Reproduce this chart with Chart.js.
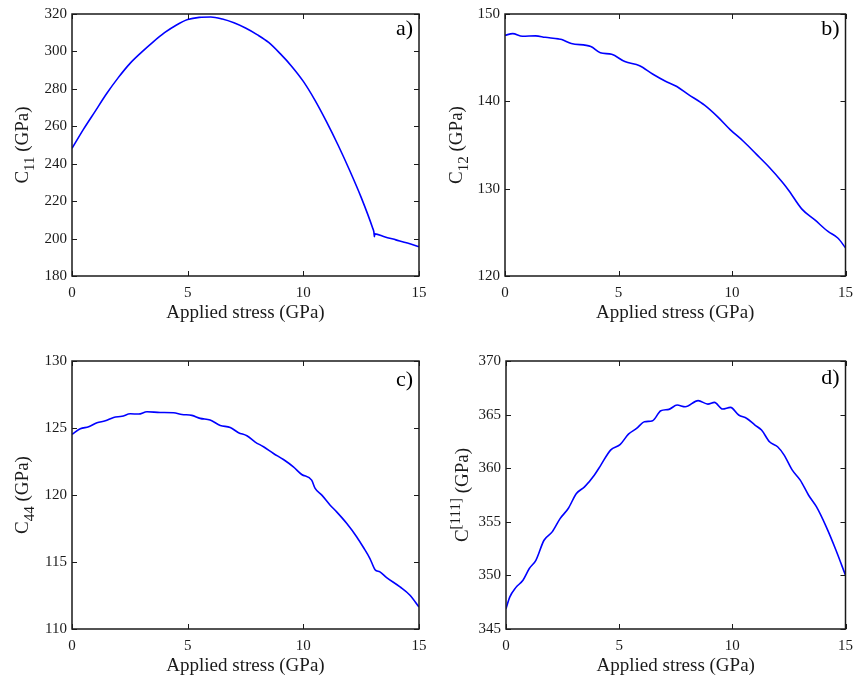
<!DOCTYPE html>
<html>
<head>
<meta charset="utf-8">
<script src="https://cdn.jsdelivr.net/npm/chart.js@4.4.1/dist/chart.umd.min.js"></script>
<style>
  html, body { margin: 0; padding: 0; background: #ffffff; }
  #wrap { position: relative; width: 861px; height: 681px; overflow: hidden; }
  #wrap canvas { position: absolute; left: 0; top: 0; }
</style>
</head>
<body>
<div id="wrap">
  <canvas id="ca" width="861" height="681"></canvas>
  <canvas id="cb" width="861" height="681"></canvas>
  <canvas id="cc" width="861" height="681"></canvas>
  <canvas id="cd" width="861" height="681"></canvas>
</div>
<script>
// ---------------- data ----------------
const xTicks = [0, 5, 10, 15];
const xTitle = 'Applied stress (GPa)';

// a) C11
const stressA = [0, 0.5, 1, 1.5, 2, 2.5, 3, 3.5, 4, 4.5, 5, 5.5, 6, 6.5, 7, 7.5, 8, 8.5, 9, 9.5, 10, 10.5, 11, 11.5, 12, 12.5, 13, 13.05, 13.07, 13.09, 13.5, 14, 14.5, 15];
const c11 = [248.2, 258.5, 268, 277.5, 286, 293.5, 299.5, 305, 310, 314, 317, 318.2, 318.4, 317.3, 315.3, 312.5, 309, 304.8, 298.8, 292, 284, 274, 262.5, 250, 236.5, 222, 205.5, 203.5, 201.0, 202.5, 201.0, 199.3, 197.6, 195.7];
const ticksA = [180, 200, 220, 240, 260, 280, 300, 320];

// b) C12
const stressB = [0, 0.34, 0.77, 1.35, 1.77, 2.35, 2.5, 2.92, 3.78, 4.2, 4.7, 5.28, 5.93, 6.5, 7.07, 7.57, 8.07, 8.79, 9.36, 9.93, 10.5, 11.08, 11.65, 12.22, 12.5, 13.08, 13.65, 14.23, 14.66, 15];
const c12 = [147.56, 147.75, 147.45, 147.5, 147.33, 147.15, 147.07, 146.62, 146.28, 145.57, 145.38, 144.55, 144.07, 143.13, 142.3, 141.7, 140.8, 139.56, 138.25, 136.74, 135.43, 133.93, 132.43, 130.74, 129.8, 127.66, 126.42, 125.1, 124.35, 123.23];
const ticksB = [120, 130, 140, 150];

// c) C44
const stressC = [0, 0.36, 0.72, 1.08, 1.44, 1.8, 2.16, 2.52, 2.88, 3.24, 3.81, 4.39, 4.75, 5.18, 5.54, 5.97, 6.41, 6.84, 7.2, 7.56, 7.92, 8.28, 8.71, 9.14, 9.57, 9.93, 10.36, 10.51, 10.8, 11.16, 11.44, 11.88, 12.31, 12.6, 12.88, 13.1, 13.31, 13.6, 14.18, 14.61, 15];
const c44 = [124.52, 124.94, 125.09, 125.39, 125.54, 125.79, 125.87, 126.06, 126.04, 126.21, 126.16, 126.14, 126.01, 125.94, 125.72, 125.59, 125.19, 125.04, 124.65, 124.42, 123.95, 123.6, 123.1, 122.65, 122.1, 121.53, 121.11, 120.49, 119.99, 119.24, 118.74, 117.87, 116.87, 116.08, 115.26, 114.43, 114.26, 113.84, 113.14, 112.52, 111.64];
const ticksC = [110, 115, 120, 125, 130];

// d) C[111]
const stressD = [0, 0.17, 0.43, 0.75, 1.03, 1.32, 1.68, 2.04, 2.39, 2.75, 3.11, 3.47, 3.9, 4.19, 4.62, 5.05, 5.41, 5.77, 6.12, 6.48, 6.84, 7.2, 7.56, 7.92, 8.49, 8.92, 9.21, 9.57, 9.92, 10.28, 10.64, 11.0, 11.29, 11.64, 12.0, 12.29, 12.65, 13.0, 13.37, 13.72, 14.15, 14.58, 15];
const c111 = [346.9, 348.0, 348.86, 349.55, 350.64, 351.41, 353.28, 354.06, 355.3, 356.24, 357.64, 358.26, 359.35, 360.29, 361.69, 362.22, 363.18, 363.71, 364.33, 364.43, 365.36, 365.49, 365.89, 365.73, 366.3, 365.98, 366.14, 365.52, 365.67, 364.96, 364.64, 364.02, 363.56, 362.47, 362.0, 361.22, 359.82, 358.89, 357.48, 356.39, 354.53, 352.35, 350.01];
const ticksD = [345, 350, 355, 360, 365, 370];

// ---------------- style ----------------
const SERIF = '"Liberation Serif", "Times New Roman", Times, serif';
const AXIS_COLOR = '#1a1a1a';
const LINE_COLOR = '#0000ff';
const CANVAS_W = 861, CANVAS_H = 681;
const Y_AXIS_W = 50, X_AXIS_H = 60;

// plugin: box, inward ticks, panel letter, y-axis title with sub/superscript
const framePlugin = {
  id: 'frame',
  afterDatasetsDraw(chart, args, opts) {
    const ctx = chart.ctx;
    const {left, right, top, bottom} = chart.chartArea;
    const xs = chart.scales.x, ys = chart.scales.y;
    ctx.save();
    ctx.strokeStyle = AXIS_COLOR;
    ctx.lineWidth = 1.5;
    ctx.strokeRect(left, top, right - left, bottom - top);
    ctx.lineWidth = 1;
    const tl = 5;
    ctx.beginPath();
    xs.ticks.forEach(t => {
      const px = Math.round(xs.getPixelForValue(t.value)) + 0.5;
      ctx.moveTo(px, bottom); ctx.lineTo(px, bottom - tl);
      ctx.moveTo(px, top); ctx.lineTo(px, top + tl);
    });
    ys.ticks.forEach(t => {
      const py = Math.round(ys.getPixelForValue(t.value)) + 0.5;
      ctx.moveTo(left, py); ctx.lineTo(left + tl, py);
      ctx.moveTo(right, py); ctx.lineTo(right - tl, py);
    });
    ctx.stroke();

    // panel letter
    ctx.fillStyle = '#000000';
    ctx.font = '22px ' + SERIF;
    ctx.textAlign = 'right';
    ctx.textBaseline = 'top';
    ctx.fillText(opts.letter, right - 6, top + opts.letterDy);

    // y title
    const parts = opts.ytitle;
    let total = 0;
    parts.forEach(p => { ctx.font = p.size + 'px ' + SERIF; p.w = ctx.measureText(p.t).width; total += p.w; });
    ctx.translate(left - opts.yTitleGap, (top + bottom) / 2);
    ctx.rotate(-Math.PI / 2);
    ctx.textAlign = 'left';
    ctx.textBaseline = 'alphabetic';
    ctx.fillStyle = AXIS_COLOR;
    let x = -total / 2;
    parts.forEach(p => {
      ctx.font = p.size + 'px ' + SERIF;
      ctx.fillText(p.t, x, p.dy);
      x += p.w;
    });
    ctx.restore();
  }
};

function makeChart(id, xsArr, ysArr, yTicks, area, letter, letterDy, ytitle, yTitleGap) {
  const pts = xsArr.map((x, i) => ({x: x, y: ysArr[i]}));
  return new Chart(document.getElementById(id), {
    type: 'line',
    data: { datasets: [{
      data: pts,
      borderColor: LINE_COLOR,
      borderWidth: 1.6,
      pointRadius: 0,
      fill: false,
      cubicInterpolationMode: 'monotone'
    }]},
    options: {
      responsive: false,
      animation: false,
      devicePixelRatio: 1,
      events: [],
      layout: {
        autoPadding: false,
        padding: {
          left: area.L - Y_AXIS_W,
          right: CANVAS_W - area.R,
          top: area.T,
          bottom: CANVAS_H - (area.B + X_AXIS_H)
        }
      },
      plugins: {
        legend: { display: false },
        tooltip: { enabled: false },
        frame: { letter: letter, letterDy: letterDy, ytitle: ytitle, yTitleGap: yTitleGap }
      },
      scales: {
        x: {
          type: 'linear',
          min: xTicks[0], max: xTicks[xTicks.length - 1],
          afterBuildTicks: s => { s.ticks = xTicks.map(v => ({value: v})); },
          afterFit: s => { s.height = X_AXIS_H; },
          grid: { display: false, drawTicks: false },
          border: { display: false },
          ticks: { color: AXIS_COLOR, font: { family: SERIF, size: 15 }, padding: 8, maxRotation: 0 },
          title: { display: true, text: xTitle, color: AXIS_COLOR, font: { family: SERIF, size: 19 }, padding: { top: 0, bottom: 11.6 } }
        },
        y: {
          type: 'linear',
          min: yTicks[0], max: yTicks[yTicks.length - 1],
          afterBuildTicks: s => { s.ticks = yTicks.map(v => ({value: v})); },
          afterFit: s => { s.width = Y_AXIS_W; },
          grid: { display: false, drawTicks: false },
          border: { display: false },
          ticks: { color: AXIS_COLOR, font: { family: SERIF, size: 15 }, padding: 5 }
        }
      }
    },
    plugins: [framePlugin]
  });
}

makeChart('ca', stressA, c11, ticksA, {L: 72, R: 419, T: 9, B: 276}, 'a)', 4,
  [{t: 'C', size: 19, dy: 0}, {t: '11', size: 15, dy: 6}, {t: ' (GPa)', size: 19, dy: 0}], 44);
makeChart('cb', stressB, c12, ticksB, {L: 505, R: 855, T: 9, B: 276}, 'b)', 4,
  [{t: 'C', size: 19, dy: 0}, {t: '12', size: 15, dy: 6}, {t: ' (GPa)', size: 19, dy: 0}], 43);
makeChart('cc', stressC, c44, ticksC, {L: 72, R: 419, T: 361, B: 629}, 'c)', 8,
  [{t: 'C', size: 19, dy: 0}, {t: '44', size: 15, dy: 6}, {t: ' (GPa)', size: 19, dy: 0}], 44);
makeChart('cd', stressD, c111, ticksD, {L: 506, R: 855, T: 361, B: 629}, 'd)', 6,
  [{t: 'C', size: 19, dy: 0}, {t: '[111]', size: 15, dy: -8}, {t: ' (GPa)', size: 19, dy: 0}], 38);
</script>
</body>
</html>
